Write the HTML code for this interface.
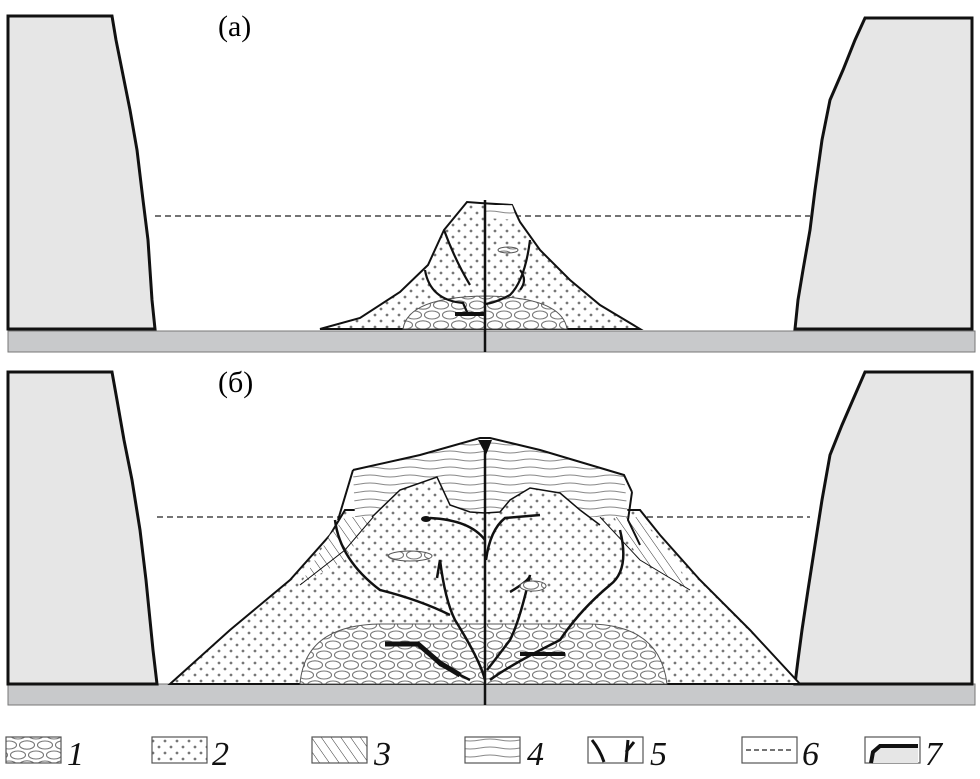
<!DOCTYPE html>
<html><head><meta charset="utf-8"><style>
html,body{margin:0;padding:0;background:#fff;}
svg{display:block;}
text{font-family:"Liberation Serif",serif;}
</style></head><body>
<svg width="980" height="779" viewBox="0 0 980 779" xmlns="http://www.w3.org/2000/svg">
<defs>
<pattern id="dots" width="12" height="12" patternUnits="userSpaceOnUse">
<rect width="12" height="12" fill="#fff"/><circle cx="3" cy="3" r="1.4" fill="#777"/><circle cx="9" cy="9" r="1.4" fill="#777"/>
</pattern>
<pattern id="grav" width="36" height="20" patternUnits="userSpaceOnUse">
<rect width="36" height="20" fill="#fff"/>
<ellipse cx="9" cy="5" rx="7.5" ry="4" fill="none" stroke="#777" stroke-width="1.1"/>
<ellipse cx="27" cy="5" rx="7.5" ry="4.2" fill="none" stroke="#777" stroke-width="1.1"/>
<ellipse cx="18" cy="15" rx="7.5" ry="4" fill="none" stroke="#777" stroke-width="1.1"/>
<ellipse cx="0" cy="15" rx="7.5" ry="4" fill="none" stroke="#777" stroke-width="1.1"/>
<ellipse cx="36" cy="15" rx="7.5" ry="4" fill="none" stroke="#777" stroke-width="1.1"/>
</pattern>
<pattern id="hatch" width="8" height="8" patternUnits="userSpaceOnUse" patternTransform="rotate(-35)">
<rect width="8" height="8" fill="#fff"/><line x1="0" y1="0" x2="0" y2="8" stroke="#333" stroke-width="1"/>
</pattern>
<pattern id="wave" width="40" height="8" patternUnits="userSpaceOnUse">
<rect width="40" height="8" fill="#fff"/><path d="M0 4 Q10 2 20 4 T40 4" fill="none" stroke="#888" stroke-width="1.1"/>
</pattern>
</defs>

<!-- PANEL A -->
<rect x="8" y="331" width="967" height="21" fill="#c8c9cb" stroke="#777" stroke-width="1"/>
<path d="M8 329 L8 16 L112 16 L116 40 L122 70 L130 110 L137 150 L143 200 L148 240 L150 270 L152 300 L155 329 Z" fill="#e6e6e6" stroke="#111" stroke-width="3"/>
<path d="M972 329 L972 18 L865 18 L855 40 L843 70 L830 100 L822 140 L815 190 L810 230 L803 270 L798 300 L795 329 Z" fill="#e6e6e6" stroke="#111" stroke-width="3"/>
<line x1="155" y1="216" x2="810" y2="216" stroke="#222" stroke-width="1.3" stroke-dasharray="6,4"/>
<path d="M320 329 L360 318 L400 292 L428 265 L444 230 L467 202 L480 203 L512 205 L520 222 L540 250 L570 280 L600 305 L640 329 Z" fill="url(#dots)" stroke="#111" stroke-width="2"/>
<path d="M403 329 Q408 297 485 296 Q562 297 567 329 Z" fill="url(#grav)" stroke="#555" stroke-width="1"/>
<path d="M485 205 L512 205 L517 220 L485 218 Z" fill="url(#wave)"/>
<path d="M444 230 Q455 260 470 285 M425 270 Q430 300 463 303 Q468 314 468 315 M530 240 Q525 280 510 295 Q495 303 485 304 M520 270 Q528 280 520 290" fill="none" stroke="#111" stroke-width="2.2"/>
<line x1="455" y1="314" x2="485" y2="314" stroke="#111" stroke-width="4"/>
<ellipse cx="508" cy="250" rx="10" ry="3" fill="url(#grav)" stroke="#555"/>
<line x1="485" y1="200" x2="485" y2="352" stroke="#111" stroke-width="2.5"/>
<text x="218" y="36" font-size="30">(а)</text>

<!-- PANEL B -->
<rect x="8" y="684" width="967" height="21" fill="#c8c9cb" stroke="#777" stroke-width="1"/>
<path d="M8 684 L8 372 L112 372 L117 400 L124 440 L132 480 L140 530 L146 580 L150 620 L153 650 L157 684 Z" fill="#e6e6e6" stroke="#111" stroke-width="3"/>
<path d="M972 684 L972 372 L865 372 L855 395 L842 425 L830 455 L822 500 L815 545 L808 590 L802 630 L798 660 L795 684 Z" fill="#e6e6e6" stroke="#111" stroke-width="3"/>
<line x1="157" y1="517" x2="810" y2="517" stroke="#222" stroke-width="1.3" stroke-dasharray="6,4"/>
<path d="M170 684 L230 630 L290 580 L330 535 L345 510 L640 510 L660 535 L700 580 L750 630 L800 684 Z" fill="url(#dots)" stroke="#111" stroke-width="2"/>
<path d="M330 535 L345 517 L372 517 L345 560 L300 585 Z" fill="url(#hatch)"/>
<path d="M640 517 L614 517 L640 560 L690 590 L675 560 Z" fill="url(#hatch)"/>
<path d="M300 585 L345 550 L375 515 M600 517 L640 560 L690 590" fill="none" stroke="#111" stroke-width="1"/>
<path d="M300 684 Q305 625 380 624 L590 624 Q660 625 667 684 Z" fill="url(#grav)" stroke="#555" stroke-width="1"/>
<path d="M353 470 L355 517 L628 517 L624 475 L540 450 L490 438 L480 438 L420 455 Z" fill="url(#wave)" stroke="none"/>
<path d="M353 470 L420 455 L480 438 L490 438 L540 450 L624 475 L632 492" fill="none" stroke="#111" stroke-width="2"/>
<path d="M338 520 L353 470" fill="none" stroke="#111" stroke-width="2"/>
<path d="M632 492 L628 520 L640 545" fill="none" stroke="#111" stroke-width="2"/>
<path d="M372 517 L400 490 L437 477 L450 505 L470 512 L485 513 L500 512 L510 500 L530 488 L560 493 L580 510 L600 525" fill="url(#dots)" stroke="#111" stroke-width="1.5"/>
<path d="M335 520 Q340 560 380 590 Q420 600 450 615 M437 578 L440 560 Q445 600 455 620 Q480 660 485 680 M430 518 Q470 520 485 540 M540 515 L505 518 Q490 530 486 560 M510 592 Q530 580 530 575 Q520 620 510 640 Q495 660 487 670 M620 530 Q630 570 610 585 Q580 610 560 640 Q510 665 490 680 M385 645 L420 645 L440 665 L470 680" fill="none" stroke="#111" stroke-width="2.5"/>
<path d="M385 644 L418 644 L440 663 L460 675" fill="none" stroke="#111" stroke-width="5"/>
<path d="M520 654 L565 654" stroke="#111" stroke-width="4"/>
<ellipse cx="426" cy="519" rx="5" ry="3" fill="#111"/>
<ellipse cx="410" cy="556" rx="22" ry="5" fill="url(#grav)" stroke="#555"/>
<ellipse cx="533" cy="586" rx="13" ry="5" fill="url(#grav)" stroke="#555"/>
<path d="M478 440 L492 440 L486 455 Z" fill="#111"/>
<line x1="485" y1="440" x2="485" y2="705" stroke="#111" stroke-width="2.5"/>
<text x="218" y="392" font-size="30">(б)</text>

<!-- LEGEND -->
<g stroke="#555" stroke-width="1.2">
<rect x="6" y="737" width="55" height="26" fill="url(#grav)"/>
<rect x="152" y="737" width="55" height="26" fill="url(#dots)"/>
<rect x="312" y="737" width="55" height="26" fill="url(#hatch)"/>
<rect x="465" y="737" width="55" height="26" fill="url(#wave)"/>
<rect x="588" y="737" width="55" height="26" fill="#fff"/>
<rect x="742" y="737" width="55" height="26" fill="#fff"/>
<rect x="865" y="737" width="55" height="26" fill="#fff"/>
</g>
<path d="M592 740 Q600 750 604 762 M628 740 L626 762 M626 752 L634 742" fill="none" stroke="#111" stroke-width="3"/>
<line x1="746" y1="750" x2="793" y2="750" stroke="#222" stroke-width="1.3" stroke-dasharray="5,3"/>
<path d="M871 763 L873 752 L880 746 L918 746 L918 763 Z" fill="#e6e6e6"/>
<path d="M871 763 L873 752 L880 746 L918 746" fill="none" stroke="#111" stroke-width="4"/>
<g font-size="34" font-style="italic" fill="#111">
<text x="67" y="765">1</text>
<text x="212" y="765">2</text>
<text x="374" y="765">3</text>
<text x="527" y="765">4</text>
<text x="650" y="765">5</text>
<text x="802" y="765">6</text>
<text x="925" y="765">7</text>
</g>
</svg>
</body></html>
